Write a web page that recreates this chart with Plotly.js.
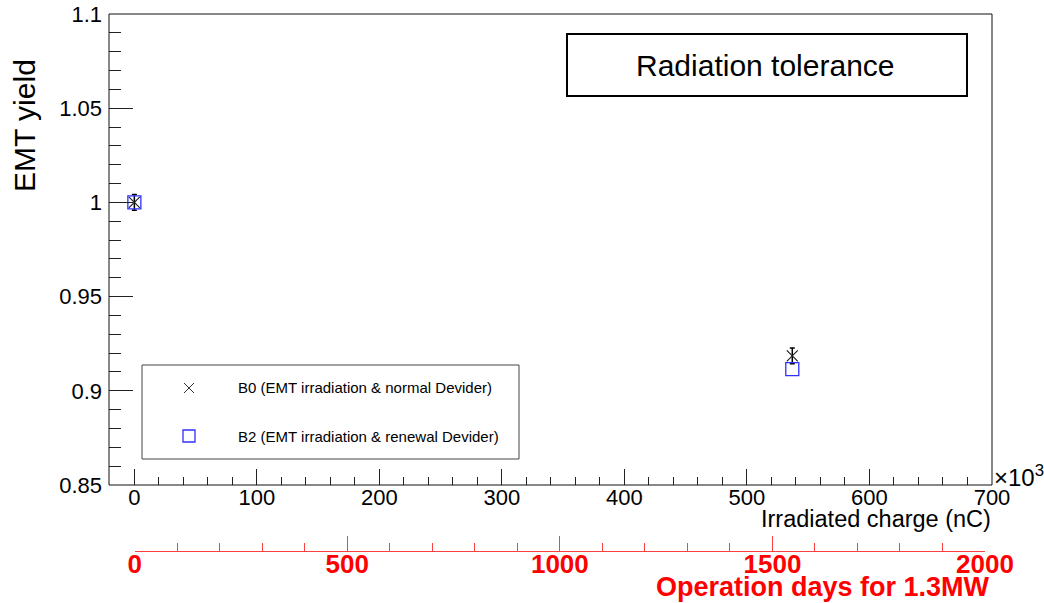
<!DOCTYPE html>
<html>
<head>
<meta charset="utf-8">
<script src="https://cdn.plot.ly/plotly-3.0.1.min.js"></script>
<style>
  html, body { margin: 0; padding: 0; background: #ffffff; }
  #chart { width: 1044px; height: 603px; }
</style>
</head>
<body>
<div id="chart"></div>
<script>
// Irradiated charge (nC, x10^3) and EMT yield for the two dividers
const chargeB0 = [0, 537];
const yieldB0 = [1.0, 0.9185];
const errB0 = [0.0042, 0.0042];

const chargeB2 = [0, 537];
const yieldB2 = [1.0, 0.9115];

const labelB0 = 'B0 (EMT irradiation & normal Devider)';
const labelB2 = 'B2 (EMT irradiation & renewal Devider)';

// Secondary scale: operation days at 1.3 MW
const daysRange = [0, 2000];

const FONT = 'Liberation Sans, Arial, Helvetica, sans-serif';
const W = 1044, H = 603;
const M = { l: 109, r: 52, t: 14, b: 30 };
const plotW = W - M.l - M.r;
const plotH = H - M.t - M.b;
// pixel -> paper helpers
const px = x => (x - M.l) / plotW;
const py = y => (H - M.b - y) / plotH;

const traces = [
  {
    // carries the operation-days axis
    x: daysRange, y: [null, null], xaxis: 'x2', yaxis: 'y', type: 'scatter', mode: 'markers',
    showlegend: false, hoverinfo: 'skip'
  },
  {
    x: chargeB0, y: yieldB0, type: 'scatter', mode: 'markers', name: labelB0,
    marker: { symbol: 'x-thin-open', size: 11, color: '#222', line: { color: '#222', width: 1.2 } },
    error_y: { type: 'data', array: errB0, visible: true, color: '#000', thickness: 1.5, width: 2.5 },
    showlegend: false, hoverinfo: 'x+y'
  },
  {
    x: chargeB2, y: yieldB2, type: 'scatter', mode: 'markers', name: labelB2,
    marker: { symbol: 'square-open', size: 13, color: '#3030ff', line: { color: '#3030ff', width: 1.3 } },
    showlegend: false, hoverinfo: 'x+y'
  }
];

const legendTop = 365, legendBottom = 459, legendLeft = 142, legendRight = 519;
const rowB0 = 388, rowB2 = 436, symX = 189;

const shapes = [
  // plot frame
  { type: 'rect', xref: 'x domain', yref: 'y domain', x0: 0, x1: 1, y0: 0, y1: 1,
    line: { color: '#111', width: 1 } },
  // title box
  { type: 'rect', xref: 'paper', yref: 'paper', x0: px(567), x1: px(967), y0: py(34), y1: py(96),
    line: { color: '#000', width: 2 }, fillcolor: '#ffffff' },
  // legend box
  { type: 'rect', xref: 'paper', yref: 'paper', x0: px(legendLeft), x1: px(legendRight),
    y0: py(legendTop), y1: py(legendBottom), line: { color: '#444', width: 1 }, fillcolor: '#ffffff', layer: 'above' },
  // legend key: B0 cross
  { type: 'line', xref: 'paper', yref: 'paper', x0: px(symX - 5), x1: px(symX + 5), y0: py(rowB0 - 5), y1: py(rowB0 + 5),
    line: { color: '#333', width: 1 }, layer: 'above' },
  { type: 'line', xref: 'paper', yref: 'paper', x0: px(symX - 5), x1: px(symX + 5), y0: py(rowB0 + 5), y1: py(rowB0 - 5),
    line: { color: '#333', width: 1 }, layer: 'above' },
  // legend key: B2 square
  { type: 'rect', xref: 'paper', yref: 'paper', x0: px(symX - 6), x1: px(symX + 6), y0: py(rowB2 - 6), y1: py(rowB2 + 6),
    line: { color: '#3030ff', width: 1.3 }, layer: 'above' }
];

const annotations = [
  { text: 'Radiation tolerance', xref: 'paper', yref: 'paper', x: px(765), y: py(65),
    showarrow: false, xanchor: 'center', yanchor: 'middle', font: { family: FONT, size: 30, color: '#000' } },
  { text: 'EMT yield', xref: 'paper', yref: 'paper', x: px(25), y: py(126), textangle: -90,
    showarrow: false, xanchor: 'center', yanchor: 'middle', font: { family: FONT, size: 30, color: '#000' } },
  { text: 'Irradiated charge (nC)', xref: 'paper', yref: 'paper', x: px(993), y: py(519),
    showarrow: false, xanchor: 'right', yanchor: 'middle', font: { family: FONT, size: 23.5, color: '#000' } },
  { text: '×10<sup>3</sup>', xref: 'paper', yref: 'paper', x: px(992), y: py(476),
    showarrow: false, xanchor: 'left', yanchor: 'middle', font: { family: FONT, size: 24, color: '#000' } },
  { text: '<b>Operation days for 1.3MW</b>', xref: 'paper', yref: 'paper', x: px(992), y: py(587),
    showarrow: false, xanchor: 'right', yanchor: 'middle', font: { family: FONT, size: 27, color: '#ff0000' } },
  { text: labelB0, xref: 'paper', yref: 'paper', x: px(236), y: py(rowB0),
    showarrow: false, xanchor: 'left', yanchor: 'middle', font: { family: FONT, size: 15, color: '#000' } },
  { text: labelB2, xref: 'paper', yref: 'paper', x: px(236), y: py(rowB2),
    showarrow: false, xanchor: 'left', yanchor: 'middle', font: { family: FONT, size: 15, color: '#000' } }
];

const layout = {
  width: W, height: H,
  margin: M,
  paper_bgcolor: '#ffffff', plot_bgcolor: 'rgba(0,0,0,0)',
  showlegend: false,
  font: { family: FONT, color: '#000' },
  xaxis: {
    domain: [0, 1], anchor: 'y', range: [-20.7, 700],
    showgrid: false, zeroline: false, showline: false,
    ticks: 'inside', ticklen: 16, tickwidth: 1, tickcolor: '#222',
    tick0: 0, dtick: 100,
    minor: { ticks: 'inside', ticklen: 8, dtick: 20, tick0: 0, tickcolor: '#222', showgrid: false },
    tickfont: { family: FONT, size: 22, color: '#000' },
    ticklabelstandoff: -3
  },
  yaxis: {
    domain: [py(485), 1], anchor: 'x', range: [0.85, 1.1],
    showgrid: false, zeroline: false, showline: false,
    ticks: 'inside', ticklen: 24, tickwidth: 1, tickcolor: '#222',
    tick0: 0.85, dtick: 0.05,
    minor: { ticks: 'inside', ticklen: 12, dtick: 0.01, tick0: 0.85, tickcolor: '#222', showgrid: false },
    tickfont: { family: FONT, size: 22, color: '#000' },
    ticklabelstandoff: 6
  },
  xaxis2: {
    domain: [px(134.7), px(985)], anchor: 'free', position: py(551), range: daysRange,
    showgrid: false, zeroline: false, showline: true, linecolor: '#ff4040', linewidth: 1,
    ticks: 'inside', ticklen: 15, tickwidth: 1, tickcolor: '#ff4040',
    tick0: 0, dtick: 500,
    minor: { ticks: 'inside', ticklen: 8, dtick: 100, tick0: 0, tickcolor: '#ff4040', showgrid: false },
    tickfont: { family: FONT, size: 26, color: '#ff0000', weight: 'bold' },
    ticklabelstandoff: -10
  },
  shapes: shapes,
  annotations: annotations
};

Plotly.newPlot('chart', traces, layout, { staticPlot: true, displayModeBar: false });
</script>
</body>
</html>
